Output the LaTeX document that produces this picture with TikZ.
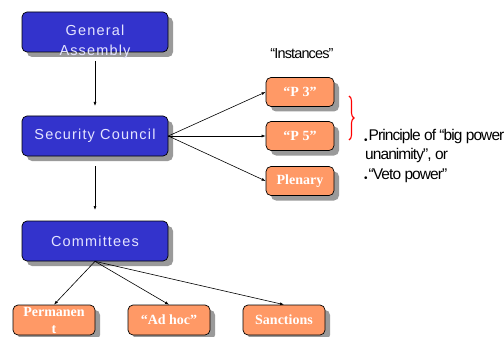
\documentclass[tikz,border=0pt]{standalone}
\usepackage{fontspec}
\setmainfont{Liberation Serif}
\setsansfont{Liberation Sans}
\newfontfamily\spacedsans[LetterSpace=8]{Liberation Sans}
\newfontfamily\narrowsans[LetterSpace=-6]{Liberation Sans}
\usetikzlibrary{decorations.pathreplacing,shadows,arrows.meta}
\definecolor{boxblue}{HTML}{3333CC}
\definecolor{boxorange}{HTML}{FF9966}
\definecolor{bluetext}{HTML}{E4E4FF}
\definecolor{shadowgray}{HTML}{9A9A9A}
\begin{document}
\begin{tikzpicture}[x=1pt,y=-1pt,
  boxbase/.style={draw=black, line width=0.7pt, rounded corners=5pt,
    drop shadow={shadow xshift=5pt, shadow yshift=-5pt, fill=shadowgray, opacity=1}},
  bluefont/.style={text=bluetext, font=\spacedsans\fontsize{14.5}{20}\selectfont},
  bluebox/.style={boxbase, fill=boxblue, minimum width=146pt, minimum height=40pt,
    inner sep=0pt, bluefont},
  orangebox/.style={boxbase, fill=boxorange, minimum width=68pt, minimum height=29pt,
    inner sep=0pt, text=white, font=\rmfamily\bfseries\fontsize{14}{17}\selectfont, align=center},
  wideorange/.style={orangebox, minimum width=82pt, minimum height=30pt},
  conn/.style={-{Latex[length=4pt,width=3pt]}, line width=0.6pt},
  plaintext/.style={inner sep=0pt, anchor=base west, font=\narrowsans\fontsize{15.5}{19}\selectfont}]
\useasboundingbox (0,0) rectangle (504,337);
% blue boxes
\node[bluebox] (ga) at (95,32) {};
\node[inner sep=0pt, bluefont, align=center] (galabel) at (95,42) {General\\Assembly};
\node[bluebox] (sc) at (95,136) {Security Council};
\node[bluebox] (com) at (95,241) {Committees};
% orange boxes right
\node[orangebox] (p3) at (300,92) {“P 3”};
\node[orangebox] (p5) at (300,136) {“P 5”};
\node[orangebox] (plen) at (300,181) {Plenary};
% bottom boxes
\node[wideorange] (perm) at (54,320) {Permanen\\t};
\node[wideorange] (adhoc) at (169,320) {“Ad hoc”};
\node[wideorange] (sanc) at (284,320) {Sanctions};
% connectors
\coordinate (gastart) at (95,61);
\coordinate (gaend) at (95,106);
\draw[conn] (gastart) -- (gaend);
\coordinate (scstart) at (95,166);
\coordinate (scend) at (95,210);
\draw[conn] (scstart) -- (scend);
\draw[conn] (sc.east) -- (p3.west);
\draw[conn] (sc.east) -- (p5.west);
\draw[conn] (sc.east) -- (plen.west);
\draw[conn] (com.south) -- (perm.north);
\draw[conn] (com.south) -- (adhoc.north);
\draw[conn] (com.south) -- (sanc.north);
% texts
\node[inner sep=0pt, font=\narrowsans\fontsize{14.5}{17}\selectfont] (inst) at (302,54) {“Instances”};
\draw[red, line width=1.1pt, decorate, decoration={brace, amplitude=5pt}] (349,96) -- (349,140);
\node[plaintext] (l1) at (364,141) {\raisebox{-2.5pt}{\fontsize{10}{10}\selectfont •}\hspace{1pt}Principle of “big power};
\node[plaintext] (l2) at (365,160) {unanimity”, or};
\node[plaintext] (l3) at (364,179) {\raisebox{-2.5pt}{\fontsize{10}{10}\selectfont •}\hspace{1pt}“Veto power”};
\end{tikzpicture}
\end{document}
